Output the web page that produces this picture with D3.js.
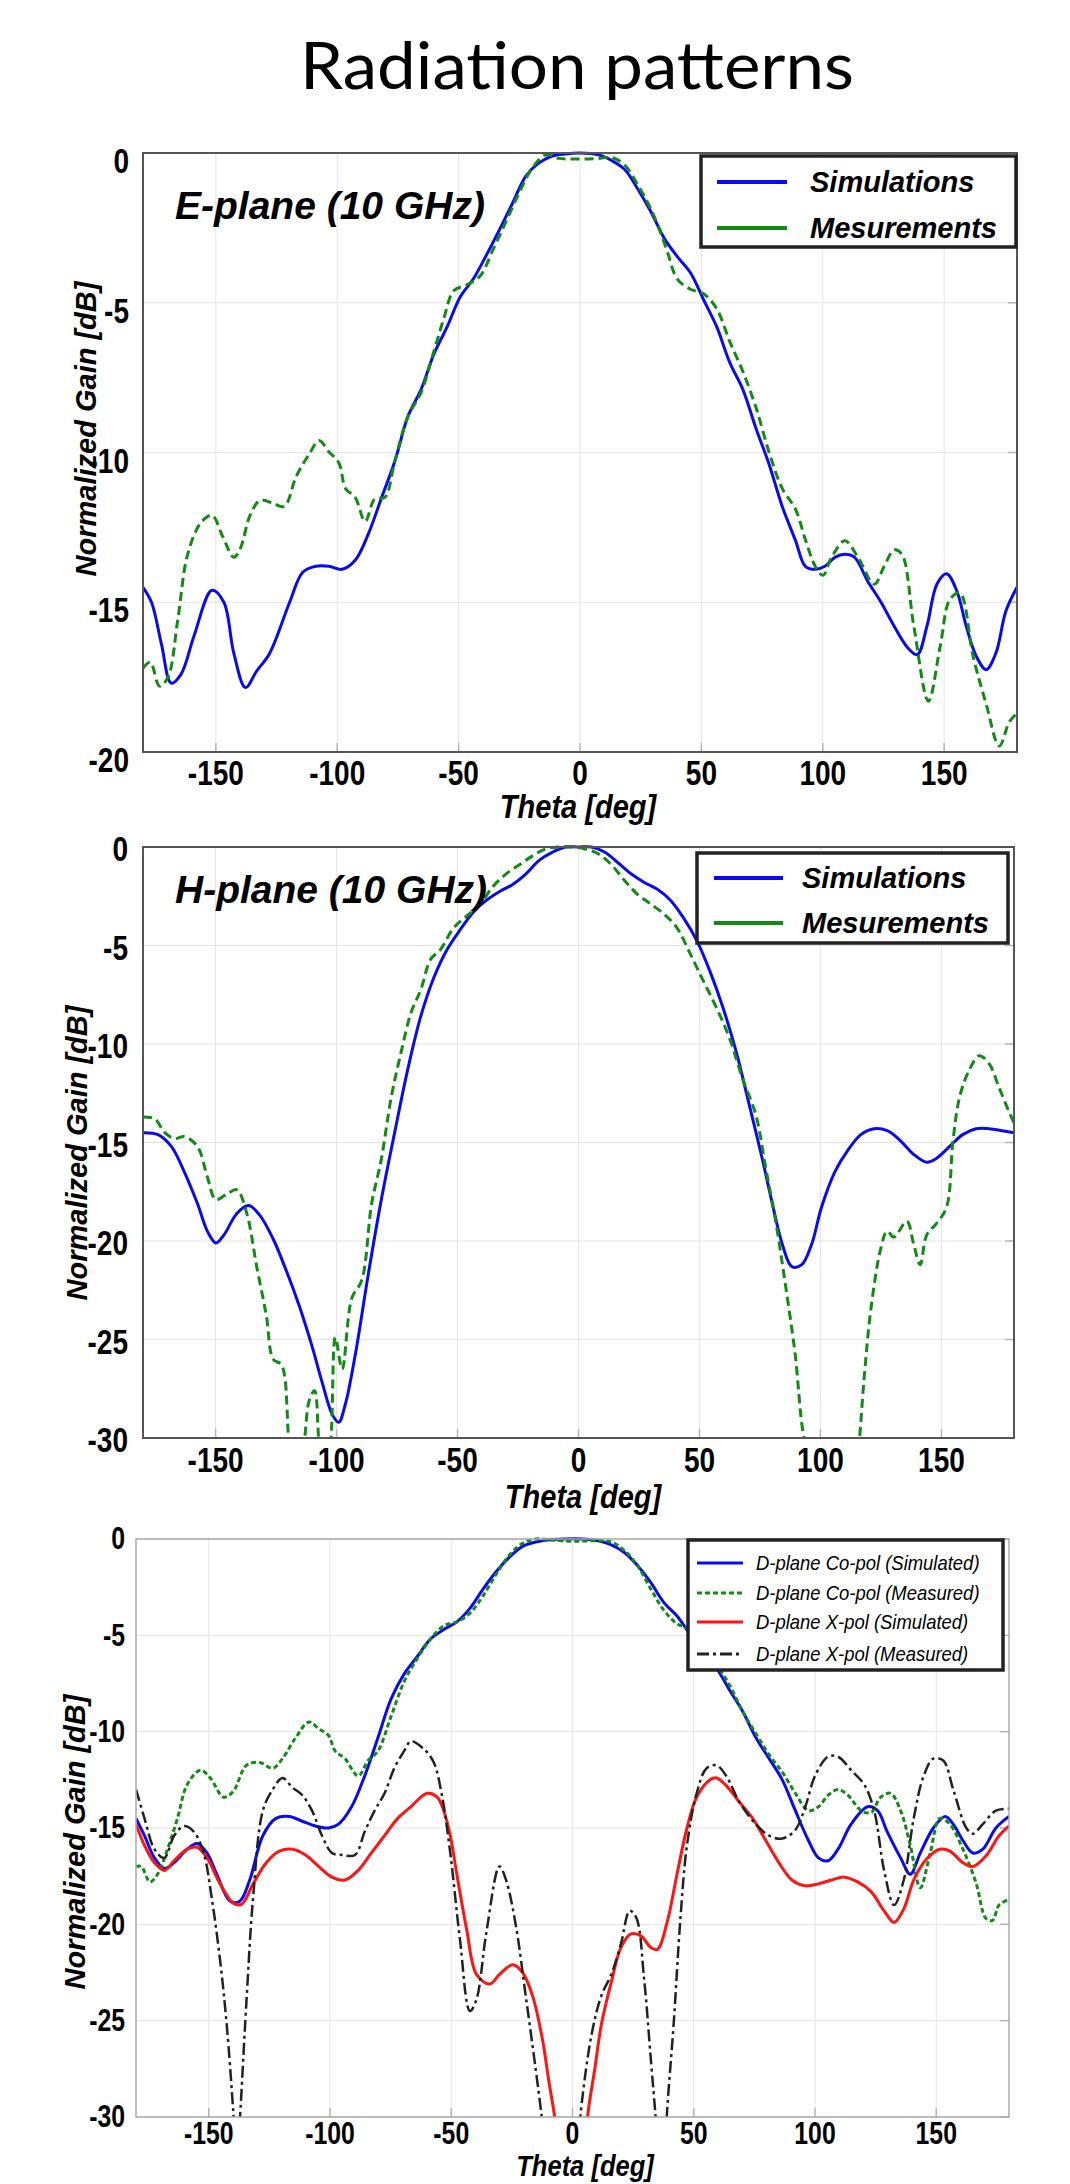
<!DOCTYPE html>
<html>
<head>
<meta charset="utf-8">
<script src="https://cdn.jsdelivr.net/npm/d3@7/dist/d3.min.js"></script>
<style>
    body { margin: 0; background: #fff; }
    .tick-label { font-family: "Liberation Sans", Arial, sans-serif; font-weight: bold; }
    .axis-title { font-family: "Liberation Sans", Arial, sans-serif; font-weight: bold; font-style: italic; }
    .plane-label { font-family: "Liberation Sans", Arial, sans-serif; font-weight: bold; font-style: italic; }
</style>
</head>
<body>
<div id="chart"></div>
<script>

// ---- data (theta in deg, normalized gain in dB) ----
const thetaTicks = [-150, -100, -50, 0, 50, 100, 150];
const eGainTicks = [0, -5, -10, -15, -20];
const hGainTicks = [0, -5, -10, -15, -20, -25, -30];

const eSim = [[-180,-14.5],[-176.5,-15.0],[-172.4,-16.4],[-168.4,-17.7],[-164.3,-17.4],[-158.9,-16.1],[-151.6,-14.6],[-146.7,-15.0],[-142.6,-16.7],[-137.8,-17.85],[-133.2,-17.3],[-127.8,-16.7],[-119.6,-15.0],[-114.2,-14.0],[-108.8,-13.8],[-103.4,-13.8],[-98,-13.9],[-92.6,-13.6],[-87.1,-12.7],[-81.7,-11.5],[-76.3,-10.3],[-70.9,-8.8],[-65.5,-7.9],[-60.1,-6.7],[-54.7,-5.8],[-49.3,-4.8],[-43.9,-4.2],[-38.5,-3.4],[-33.1,-2.55],[-27.7,-1.66],[-22.3,-0.77],[-16.9,-0.33],[-11.4,-0.1],[-6,-0.03],[0,0],[7.6,-0.06],[13,-0.25],[18.4,-0.55],[23.8,-1.2],[29.2,-1.96],[34.7,-2.85],[40,-3.45],[45.5,-4.0],[50.9,-4.9],[56.3,-5.8],[61.7,-7.0],[67.1,-7.9],[72.5,-9.2],[77.9,-10.4],[83.3,-11.8],[88.8,-12.95],[92.8,-13.8],[96.9,-13.9],[100.9,-13.8],[105,-13.5],[109.1,-13.4],[113.1,-13.5],[118.5,-14.3],[124,-15.0],[129.4,-15.8],[134.8,-16.5],[138.9,-16.75],[142.9,-15.8],[147,-14.4],[151,-14.05],[155.1,-14.6],[159.1,-15.8],[163.2,-16.8],[167.3,-17.25],[171.3,-16.7],[175.4,-15.3],[180,-14.5]];

const eMeas = [[-180,-17.2],[-177,-17.0],[-173.2,-17.8],[-169.7,-17.5],[-165.7,-15.6],[-161.6,-13.4],[-156.2,-12.35],[-151.6,-12.1],[-147.2,-12.8],[-142.6,-13.5],[-139.9,-13.2],[-135.9,-12.1],[-131.8,-11.6],[-126.4,-11.7],[-121.8,-11.8],[-116.9,-10.8],[-111.5,-10.05],[-107.5,-9.6],[-103.4,-9.98],[-99.3,-10.35],[-96.6,-11.2],[-92.6,-11.5],[-88.5,-12.3],[-84.5,-11.55],[-80.4,-11.5],[-76.3,-10.3],[-70.9,-8.8],[-65.5,-8.0],[-60.1,-6.6],[-56,-5.5],[-52,-4.6],[-46.6,-4.4],[-41.1,-4.1],[-35.7,-3.2],[-30.3,-2.26],[-24.9,-1.3],[-19.5,-0.48],[-14.1,-0.06],[-8.7,-0.18],[-3.2,-0.2],[2.2,-0.2],[7.6,-0.18],[13,-0.15],[18.4,-0.4],[23.8,-1.07],[27.9,-1.66],[32,-2.4],[36,-3.3],[40,-4.2],[45.5,-4.55],[50.9,-4.7],[56.3,-5.2],[61.7,-6.3],[67.1,-7.3],[72.5,-8.5],[77.9,-10.0],[83.3,-11.2],[88.8,-11.9],[92.8,-12.9],[96.9,-13.8],[100.1,-14.1],[103.6,-13.5],[109.1,-12.95],[114.5,-13.5],[121.2,-14.4],[125.3,-13.8],[129.4,-13.25],[132.6,-13.4],[137.5,-15.8],[143.5,-18.3],[148.3,-16.5],[152.4,-14.9],[156.5,-14.7],[161.9,-16.8],[167.3,-18.4],[172.7,-19.8],[176.8,-19.0],[180,-18.7]];

const hSim = [[-180,-14.5],[-173.8,-14.6],[-168.3,-15.2],[-162.9,-16.5],[-157.5,-18.1],[-153.4,-19.5],[-149.9,-20.1],[-146.6,-19.7],[-141.2,-18.6],[-136.3,-18.2],[-131.7,-18.7],[-126.2,-19.9],[-120.8,-21.5],[-115.4,-23.3],[-110,-25.4],[-105.9,-27.2],[-101.8,-28.8],[-99.1,-29.2],[-96.4,-28.3],[-92.3,-25.8],[-86.9,-21.7],[-81.5,-17.9],[-76,-14.5],[-70.6,-11.3],[-65.2,-8.6],[-59.7,-6.6],[-54.3,-5.2],[-48.9,-4.2],[-43.4,-3.3],[-38,-2.7],[-32.6,-2.26],[-27.2,-1.9],[-21.7,-1.36],[-16.3,-0.68],[-10.9,-0.27],[-5.4,0],[0,0],[5.4,0],[10.9,-0.27],[16.3,-0.8],[21.7,-1.36],[27.2,-1.8],[32.6,-2.15],[38,-2.7],[43.4,-3.6],[48.9,-4.75],[54.3,-6.3],[59.7,-8.15],[65.2,-10.4],[70.6,-13.1],[76,-15.85],[80.1,-18.1],[84.2,-20.15],[88.2,-21.3],[92.3,-21.2],[96.4,-20.15],[100.4,-18.3],[105.9,-16.5],[111.3,-15.4],[116.7,-14.6],[122.2,-14.3],[127.6,-14.4],[133,-14.9],[138.5,-15.6],[143.9,-16.0],[148,-15.8],[153.4,-15.2],[158.8,-14.6],[164.3,-14.3],[169.7,-14.3],[175.1,-14.4],[180,-14.5]];

const hMeas = [[-180,-13.7],[-175.1,-13.8],[-171,-14.5],[-166.9,-14.8],[-162.9,-14.7],[-157.5,-15.2],[-153.4,-16.75],[-149.9,-17.9],[-145.2,-17.6],[-141.2,-17.4],[-137.1,-18.6],[-133,-21.3],[-129,-23.8],[-126.2,-26.0],[-122.7,-26.3],[-119.5,-30.3],[-116.5,-32],[-113.5,-30.3],[-111.3,-28.1],[-109.1,-27.6],[-107.2,-30.3],[-105,-32],[-102.5,-30.3],[-100.5,-24.9],[-97.7,-26.5],[-93.7,-22.9],[-89.6,-22.0],[-85.5,-18.1],[-81.5,-15.85],[-77.4,-12.7],[-73.3,-10.4],[-69.2,-8.4],[-65.2,-7.25],[-61.1,-5.7],[-57,-5.2],[-51.6,-4.1],[-46.1,-3.5],[-40.7,-2.9],[-35.3,-2.0],[-29.9,-1.36],[-24.4,-0.9],[-19,-0.45],[-13.6,-0.1],[-8.1,0],[-2.7,0],[2.7,-0.1],[8.1,-0.34],[13.6,-0.9],[19,-1.7],[24.4,-2.4],[29.9,-2.9],[35.3,-3.4],[40.7,-4.1],[46.1,-5.4],[51.6,-6.8],[57,-8.15],[62.4,-9.7],[67.9,-11.8],[73.3,-13.6],[77.4,-16.3],[81.5,-19.0],[85.5,-22.2],[89.6,-25.8],[92.8,-29.7],[96.4,-31.5],[102,-36],[110,-36],[115.4,-31],[118.1,-26.9],[120.8,-23.5],[124.9,-20.4],[127.6,-19.5],[130.3,-19.8],[135.7,-19.0],[138.5,-20.15],[141.2,-21.2],[143.9,-19.7],[148,-19.1],[152.1,-18.3],[154.8,-14.9],[157.5,-12.7],[161.6,-11.3],[165.6,-10.6],[169.7,-11.0],[173.8,-12.2],[177.8,-13.4],[180,-14.0]];

const dCoSim = [[-180,-14.5],[-176.5,-15.4],[-172.4,-16.55],[-168.3,-17.1],[-164.3,-16.8],[-158.9,-16.1],[-154.8,-15.8],[-150.7,-16.3],[-146.7,-17.4],[-141.2,-18.8],[-137.2,-18.8],[-133.1,-17.7],[-127.7,-15.4],[-122.3,-14.5],[-116.8,-14.4],[-111.4,-14.65],[-106,-14.9],[-100.6,-15.0],[-96.5,-14.8],[-91.1,-13.9],[-85.7,-12.3],[-80.2,-10.3],[-74.8,-8.3],[-69.4,-7.0],[-64,-6.1],[-58.6,-5.2],[-53.1,-4.7],[-47.7,-4.3],[-42.3,-3.6],[-36.9,-2.6],[-31.5,-1.7],[-26,-0.94],[-20.6,-0.38],[-15.2,-0.16],[-9.8,-0.04],[-3,0],[3.8,0],[10.6,-0.09],[16,-0.3],[21.4,-0.7],[26.8,-1.38],[32.3,-2.27],[37.7,-3.3],[43.1,-4.0],[48.5,-4.95],[53.9,-5.85],[59.4,-6.7],[64.8,-7.85],[70.2,-8.95],[75.6,-10.3],[81.1,-11.4],[86.5,-12.5],[91.9,-14.1],[97.3,-15.65],[101.4,-16.55],[105.4,-16.7],[109.5,-16.1],[114.9,-14.8],[121.7,-13.9],[125.8,-14.1],[129.8,-15.2],[135.3,-16.55],[139.3,-17.4],[143.4,-16.3],[148.8,-15.0],[153.7,-14.4],[157,-14.8],[161,-15.65],[165.1,-16.3],[169.2,-16.1],[174.6,-15.0],[180,-14.4]];

const dCoMeas = [[-180,-17.0],[-177.8,-17.0],[-174.3,-17.8],[-171.1,-17.4],[-167,-16.1],[-162.9,-14.5],[-158.9,-12.75],[-153.4,-12.0],[-149.4,-12.4],[-143.9,-13.4],[-139.9,-13.1],[-134.5,-11.75],[-129,-11.6],[-123.6,-11.9],[-119.6,-11.4],[-114.1,-10.3],[-108.7,-9.5],[-104.6,-9.85],[-100.6,-10.2],[-97.9,-11.0],[-93.8,-11.4],[-88.4,-12.3],[-84.3,-11.5],[-80.2,-11.0],[-74.8,-9.2],[-69.4,-7.4],[-64,-6.2],[-58.6,-5.2],[-53.1,-4.5],[-47.7,-4.3],[-42.3,-3.85],[-36.9,-2.95],[-31.5,-1.83],[-26,-0.83],[-20.6,-0.22],[-15.2,0],[-9.8,-0.04],[-3,-0.11],[3.8,-0.11],[10.6,-0.09],[16,-0.16],[21.4,-0.6],[26.8,-1.38],[32.3,-2.6],[37.7,-3.7],[43.1,-4.4],[48.5,-4.7],[53.9,-5.4],[59.4,-6.5],[64.8,-7.6],[70.2,-8.95],[75.6,-10.1],[81.1,-11.2],[86.5,-12.1],[91.9,-13.2],[97.3,-14.1],[101.4,-13.9],[105.4,-13.3],[109.5,-13.0],[113.6,-13.3],[119,-14.1],[123.1,-14.2],[127.1,-13.4],[131.2,-13.2],[135.3,-14.1],[139.3,-15.9],[143.4,-18.1],[147.5,-16.3],[151.5,-14.5],[155.6,-14.8],[161,-16.1],[166.4,-17.85],[170.5,-19.7],[173.2,-19.8],[175.9,-19.0],[180,-18.7]];

const dXSim = [[-180,-14.8],[-176.5,-15.9],[-172.4,-16.8],[-168.3,-17.2],[-164.3,-16.7],[-158.9,-16.1],[-154.8,-16.0],[-150.7,-16.55],[-145.3,-17.9],[-139.9,-18.9],[-136.4,-18.95],[-131.7,-17.9],[-126.3,-16.8],[-120.9,-16.2],[-115.5,-16.1],[-110.1,-16.4],[-104.6,-17.0],[-99.2,-17.55],[-93.8,-17.7],[-88.4,-17.2],[-83,-16.3],[-77.5,-15.4],[-72.1,-14.5],[-66.7,-13.9],[-59.9,-13.2],[-55.8,-13.4],[-53.1,-14.1],[-50.4,-15.4],[-47.7,-17.4],[-43.6,-20.3],[-39.6,-22.6],[-34.2,-23.1],[-30.1,-22.6],[-24.7,-22.1],[-20.6,-22.5],[-16.5,-23.7],[-12.5,-25.9],[-9.8,-28.1],[-7.1,-30.2],[-5.7,-31.8],[0,-38],[5.1,-31.8],[6.5,-29.7],[9.2,-27.5],[11.9,-25.2],[16,-23.0],[20,-21.2],[24.1,-20.5],[28.2,-20.6],[32.3,-21.2],[35,-21.3],[39,-19.9],[43.1,-17.4],[47.2,-15.0],[51.2,-13.4],[56.7,-12.5],[59.4,-12.4],[63.4,-12.8],[68.8,-13.65],[74.3,-14.5],[79.7,-15.65],[85.1,-16.8],[90.5,-17.7],[95.9,-18.0],[101.4,-17.9],[106.8,-17.7],[112.2,-17.55],[117.6,-17.8],[123.1,-18.3],[128.5,-19.3],[132.6,-19.9],[136.6,-19.2],[140.7,-17.7],[146.1,-16.6],[151.5,-16.1],[155.6,-16.2],[161,-16.8],[165.1,-17.0],[170.5,-16.45],[175.9,-15.4],[180,-14.9]];

const dXMeas = [[-180,-13.0],[-176.5,-14.5],[-172.4,-16.1],[-168.3,-16.55],[-164.3,-15.4],[-160.2,-14.9],[-156.1,-15.2],[-152.1,-16.3],[-148.8,-18.6],[-145.3,-21.9],[-142.6,-25.2],[-139.9,-29.7],[-138.5,-32.5],[-137.2,-30.2],[-134.5,-24.1],[-131.7,-18.6],[-127.7,-14.1],[-123.6,-13.0],[-119.6,-12.4],[-115.5,-12.9],[-111.4,-13.3],[-107.4,-14.1],[-103.3,-15.4],[-99.2,-16.3],[-95.2,-16.4],[-89.7,-16.4],[-85.7,-15.2],[-81.6,-14.1],[-77.5,-13.2],[-73.5,-11.9],[-69.4,-11.0],[-66.7,-10.5],[-61.3,-10.9],[-57.2,-11.6],[-54,-13.2],[-50.4,-16.3],[-46.4,-20.8],[-42.3,-24.5],[-39.6,-23.9],[-35.5,-20.4],[-30.1,-17.0],[-27.4,-17.7],[-23.3,-20.1],[-19.3,-23.7],[-15.2,-27.5],[-12.5,-30.2],[-11.1,-32],[-5,-38],[1.9,-32],[3.8,-29.3],[7.9,-25.7],[11.9,-23.7],[16,-22.6],[20,-21.0],[23.6,-19.3],[26.3,-19.65],[29.5,-22.8],[32.3,-27.0],[34.4,-30.2],[36,-33],[37.7,-33],[39,-29.7],[41.7,-25.2],[44.5,-19.7],[47.2,-15.9],[51.2,-13.2],[55.3,-11.9],[59.4,-11.75],[63.4,-12.3],[68.8,-13.65],[75.6,-14.8],[81.1,-15.4],[86.5,-15.55],[91.9,-15.1],[96,-13.9],[100,-12.3],[105.4,-11.3],[109.5,-11.3],[114.9,-12.0],[120.3,-12.75],[124.4,-14.1],[128.5,-17.2],[132.6,-19.0],[136.6,-17.7],[140.7,-14.5],[144.8,-12.3],[148.8,-11.4],[152.9,-11.5],[157,-13.0],[162.4,-15.0],[165.1,-15.3],[169.2,-14.8],[174.6,-14.1],[180,-14.0]];

const ePlaneLegend = ["Simulations", "Mesurements"];
const dPlaneLegend = ["D-plane Co-pol (Simulated)", "D-plane Co-pol (Measured)", "D-plane X-pol (Simulated)", "D-plane X-pol (Measured)"];


class PatternVis {

    constructor(svg, config) {
        this.svg = svg;
        this.config = config;
        this.initVis();
    }

    initVis() {
        let vis = this;
        let c = vis.config;

        vis.g = vis.svg.append("g").attr("class", "panel");

        vis.x = d3.scaleLinear().domain([-180, 180]).range([c.left, c.right]);
        vis.y = d3.scaleLinear().domain(c.yDomain).range([c.bottom, c.top]);

        // grid
        vis.g.append("g").selectAll("line")
            .data(thetaTicks)
            .enter().append("line")
            .attr("x1", d => vis.x(d)).attr("x2", d => vis.x(d))
            .attr("y1", c.top).attr("y2", c.bottom)
            .attr("stroke", "#e4e4e4").attr("stroke-width", 1);

        vis.g.append("g").selectAll("line")
            .data(c.yTicks)
            .enter().append("line")
            .attr("x1", c.left).attr("x2", c.right)
            .attr("y1", d => vis.y(d)).attr("y2", d => vis.y(d))
            .attr("stroke", "#e4e4e4").attr("stroke-width", 1);

        // small tick marks inside the box
        vis.g.append("g").selectAll("line")
            .data(thetaTicks)
            .enter().append("line")
            .attr("x1", d => vis.x(d)).attr("x2", d => vis.x(d))
            .attr("y1", c.bottom).attr("y2", c.bottom - 9)
            .attr("stroke", "#b5b5b5").attr("stroke-width", 1.5);

        vis.g.append("g").selectAll("line")
            .data(c.yTicks)
            .enter().append("line")
            .attr("x1", c.right).attr("x2", c.right - 9)
            .attr("y1", d => vis.y(d)).attr("y2", d => vis.y(d))
            .attr("stroke", "#b5b5b5").attr("stroke-width", 1.5);

        // clip for curves going under the axis
        vis.clipId = "clip-" + c.name;
        vis.svg.append("clipPath").attr("id", vis.clipId)
            .append("rect")
            .attr("x", c.left).attr("y", c.top - 3)
            .attr("width", c.right - c.left).attr("height", c.bottom - c.top + 3);

        vis.line = d3.line()
            .x(d => vis.x(d[0]))
            .y(d => vis.y(d[1]))
            .curve(d3.curveCatmullRom.alpha(0.5));

        vis.curves = vis.g.append("g").attr("clip-path", `url(#${vis.clipId})`);

        // frame
        vis.g.append("rect")
            .attr("x", c.left).attr("y", c.top)
            .attr("width", c.right - c.left).attr("height", c.bottom - c.top)
            .attr("fill", "none")
            .attr("stroke", c.frameColor)
            .attr("stroke-width", c.frameWidth);

        // tick labels (condensed look, like the original export)
        vis.g.append("g").selectAll("text")
            .data(thetaTicks)
            .enter().append("text")
            .attr("class", "tick-label")
            .attr("transform", d => `translate(${vis.x(d)}, ${c.xTickBaseline}) scale(0.8, 1)`)
            .attr("text-anchor", "middle")
            .style("font-size", c.tickSize + "px")
            .text(d => d);

        vis.g.append("g").selectAll("text")
            .data(c.yTicks)
            .enter().append("text")
            .attr("class", "tick-label")
            .attr("transform", d => `translate(${c.yTickRight}, ${vis.y(d) + c.yTickDy}) scale(0.8, 1)`)
            .attr("dominant-baseline", "central")
            .attr("text-anchor", "end")
            .style("font-size", c.tickSize + "px")
            .text(d => d);

        // axis titles
        vis.g.append("text")
            .attr("class", "axis-title")
            .attr("transform", `translate(${c.xLabelX}, ${c.xLabelY}) scale(0.88, 1)`)
            .attr("text-anchor", "middle")
            .attr("dominant-baseline", "central")
            .style("font-size", c.xLabelSize + "px")
            .text("Theta [deg]");

        vis.g.append("text")
            .attr("class", "axis-title")
            .attr("transform", `translate(${c.yLabelX}, ${c.yLabelY}) rotate(-90)`)
            .attr("text-anchor", "middle")
            .attr("dominant-baseline", "central")
            .style("font-size", "29px")
            .text("Normalized Gain [dB]");

        if (c.planeLabel) {
            vis.g.append("text")
                .attr("class", "plane-label")
                .attr("x", c.planeLabel.x).attr("y", c.planeLabel.y)
                .attr("dominant-baseline", "central")
                .style("font-size", "39px")
                .text(c.planeLabel.text);
        }

        vis.updateVis();
    }

    updateVis() {
        let vis = this;
        let c = vis.config;

        vis.curves.selectAll("path")
            .data(c.series)
            .enter().append("path")
            .attr("d", d => vis.line(d.values))
            .attr("fill", "none")
            .attr("stroke", d => d.color)
            .attr("stroke-width", d => d.width)
            .attr("stroke-dasharray", d => d.dash || null)
            .attr("stroke-linejoin", "round");

        // legend
        let lg = c.legend;
        let legend = vis.g.append("g").attr("class", "legend");

        legend.append("rect")
            .attr("x", lg.x).attr("y", lg.y)
            .attr("width", lg.w).attr("height", lg.h)
            .attr("fill", "#fff")
            .attr("stroke", "#222")
            .attr("stroke-width", 3.5);

        let rows = legend.selectAll("g.row")
            .data(c.series)
            .enter().append("g")
            .attr("class", "row");

        rows.append("line")
            .attr("x1", lg.lineX0).attr("x2", lg.lineX1)
            .attr("y1", (d, i) => lg.rows[i]).attr("y2", (d, i) => lg.rows[i])
            .attr("stroke", d => d.color)
            .attr("stroke-width", lg.lineWidth)
            .attr("stroke-dasharray", d => lg.solid ? null : (d.dash || null));

        rows.append("text")
            .attr("transform", (d, i) => `translate(${lg.textX}, ${lg.rows[i]}) scale(${lg.squeeze}, 1)`)
            .attr("dominant-baseline", "central")
            .style("font-family", '"Liberation Sans", Arial, sans-serif')
            .style("font-style", "italic")
            .style("font-weight", lg.bold ? "bold" : "normal")
            .style("font-size", lg.fontSize + "px")
            .text((d, i) => lg.labels[i]);
    }
}


let svg = d3.select("#chart").append("svg")
    .attr("width", 1070)
    .attr("height", 2184);

svg.append("text")
    .attr("x", 577).attr("y", 89)
    .attr("text-anchor", "middle")
    .attr("textLength", 554)
    .attr("lengthAdjust", "spacingAndGlyphs")
    .style("font-family", "Lato, 'Open Sans', sans-serif")
    .style("font-size", "66px")
    .text("Radiation patterns");

const blue = "#0a0af0", green = "#138a13", red = "#ff1414", black = "#222";

new PatternVis(svg, {
    name: "e",
    left: 143, right: 1017, top: 153, bottom: 752,
    yDomain: [-20, 0], yTicks: eGainTicks,
    frameColor: "#555", frameWidth: 2,
    tickSize: 35, xTickBaseline: 785, yTickRight: 129, yTickDy: 8,
    xLabelX: 578, xLabelY: 807, xLabelSize: 33, yLabelX: 86, yLabelY: 429,
    planeLabel: {text: "E-plane (10 GHz)", x: 175, y: 205},
    series: [
        {values: eSim, color: blue, width: 3},
        {values: eMeas, color: green, width: 3, dash: "9,5"}
    ],
    legend: {x: 701, y: 156, w: 315, h: 91, rows: [182, 228], lineX0: 717, lineX1: 787,
        textX: 810, fontSize: 29, bold: true, solid: true, lineWidth: 4, squeeze: 1, labels: ePlaneLegend}
});

new PatternVis(svg, {
    name: "h",
    left: 143, right: 1014, top: 847, bottom: 1438,
    yDomain: [-30, 0], yTicks: hGainTicks,
    frameColor: "#555", frameWidth: 2,
    tickSize: 35, xTickBaseline: 1472, yTickRight: 128, yTickDy: 2,
    xLabelX: 583, xLabelY: 1497, xLabelSize: 33, yLabelX: 77, yLabelY: 1153,
    planeLabel: {text: "H-plane (10 GHz)", x: 175, y: 889},
    series: [
        {values: hSim, color: blue, width: 3},
        {values: hMeas, color: green, width: 3, dash: "9,5"}
    ],
    legend: {x: 697, y: 853, w: 311, h: 90, rows: [878, 923], lineX0: 714, lineX1: 783,
        textX: 802, fontSize: 29, bold: true, solid: true, lineWidth: 4, squeeze: 1, labels: ePlaneLegend}
});

new PatternVis(svg, {
    name: "d",
    left: 136, right: 1009, top: 1539, bottom: 2117,
    yDomain: [-30, 0], yTicks: hGainTicks,
    frameColor: "#aaa", frameWidth: 1.5,
    tickSize: 31, xTickBaseline: 2144, yTickRight: 125, yTickDy: 0,
    xLabelX: 585, xLabelY: 2166, xLabelSize: 29, yLabelX: 75, yLabelY: 1842,
    planeLabel: null,
    series: [
        {values: dCoSim, color: blue, width: 3},
        {values: dCoMeas, color: green, width: 3, dash: "5,3"},
        {values: dXSim, color: red, width: 3},
        {values: dXMeas, color: black, width: 2.5, dash: "12,4,3,4"}
    ],
    legend: {x: 688, y: 1540, w: 315, h: 130, rows: [1563, 1593, 1622, 1654], lineX0: 697, lineX1: 743,
        textX: 756, fontSize: 20.5, bold: false, solid: false, lineWidth: 3, squeeze: 0.9, labels: dPlaneLegend}
});

</script>
</body>
</html>
